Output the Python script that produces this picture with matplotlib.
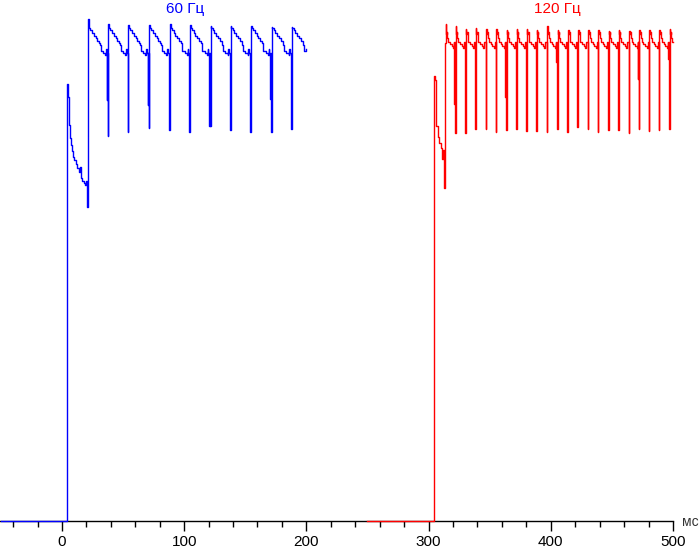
import matplotlib
matplotlib.use("Agg")
from matplotlib import pyplot as plt

# --- data (time in ms, level in % of the top) ---

# 60 Hz trace: switch-on part before the first full frame
blue_lead_t = [-50, 4.3, 4.9, 6.0, 6.5, 7.4, 8.2, 9.0, 10.1, 11.2, 12.5, 13.9, 14.7,
               15.3, 16.4, 18.0, 19.1, 19.6, 20.5, 20.7, 21.0]
blue_lead_v = [0, 87.4, 84.9, 79.2, 76.6, 75.2, 74.0, 72.8, 72.2, 71.4, 70.6, 69.8, 70.8,
               68.6, 68.0, 67.6, 67.2, 68.0, 67.6, 62.8, 81.2]
# frame peaks
blue_peak_t = [21.5, 37.9, 54.3, 71.4, 88.4, 104.7, 121.7, 138.1, 154.7, 171.6, 188.0]
blue_peak_v = [100.4, 99.4, 99.2, 99.2, 99.4, 99.2, 99.0, 99.0, 99.0, 98.8, 98.8]
# bottom of the dip before each next frame
blue_drop_v = [77.1, 77.9, 78.7, 78.2, 77.9, 79.0, 78.2, 77.9, 77.9, 78.5]
# extra short dip just before the main one (None = none)
blue_spike_v = [84.3, None, 83.2, None, None, 79.0, None, None, 84.5, None]
# decay within one frame (offset from the peak, level)
blue_frame_dt = [0.5, 1.5, 3.0, 4.5, 6.0, 7.5, 9.0, 9.6, 10.2, 12.0, 13.8, 14.4, 15.0]
blue_frame_v = [98.6, 98.2, 97.6, 97.0, 96.6, 96.0, 95.6, 95.2, 94.0, 93.6, 93.2, 94.4, 93.6]
blue_end = (200.0, 94.4)

# 120 Hz trace
red_lead_t = [250, 304.4, 305.3, 305.8, 306.1, 307.7, 308.8, 309.9, 310.7, 311.2, 312.0,
              312.8, 313.4]
red_lead_v = [0, 89.0, 88.2, 81.9, 79.0, 76.8, 75.6, 74.6, 74.2, 72.4, 74.2, 66.6, 95.6]
red_peak_t = [314.0, 322.2, 330.6, 338.8, 347.2, 355.4, 363.9, 372.1, 380.5, 388.5, 397.1,
              405.6, 414.1, 422.3, 430.7, 438.9, 447.4, 455.6, 464.1, 472.3, 480.6, 488.8,
              497.3]
red_peak_v = [99.4, 99.0, 98.5, 98.7, 98.5, 98.5, 98.3, 98.5, 98.5, 98.3, 99.0, 98.3,
              98.3, 98.3, 98.3, 98.3, 98.1, 98.2, 98.1, 98.3, 98.3, 98.3, 98.5]
red_drop_v = [77.7, 77.7, 78.5, 78.5, 77.9, 78.2, 78.5, 78.1, 78.1, 77.9, 78.5, 77.9,
              78.9, 78.5, 77.9, 78.2, 78.2, 77.7, 78.5, 78.1, 78.2, 78.5]
red_spike_v = [83.4, 86.2, None, None, None, 84.9, None, 85.9, None, None, 91.9, 81.2,
               80.9, None, None, None, 82.2, None, 88.5, None, None, 92.5]
red_frame_dt = [0.4, 0.8, 1.3, 2.0, 3.5, 5.0, 6.1, 6.9]
red_frame_v = [97.4, 97.8, 96.6, 95.8, 95.4, 95.0, 94.7, 95.8]
red_end = (499.8, 95.8)


def build(lead_t, lead_v, peak_t, peak_v, drop_v, spike_v, frame_dt, frame_v, end):
    t = list(lead_t)
    v = list(lead_v)
    for i in range(len(peak_t)):
        pt = peak_t[i]
        nxt = peak_t[i + 1] if i + 1 < len(peak_t) else end[0] + 1.0
        t.append(pt)
        v.append(peak_v[i])
        for dt, lv in zip(frame_dt, frame_v):
            if pt + dt < min(nxt - 1.0, end[0]):
                t.append(pt + dt)
                v.append(lv)
        if i < len(drop_v):
            last = v[-1]
            if spike_v[i] is not None:
                t += [nxt - 1.0, nxt - 0.85]
                v += [spike_v[i], last]
            t.append(nxt - 0.5)
            v.append(drop_v[i])
    t.append(end[0])
    v.append(end[1])
    return t, v


blue_t, blue_v = build(blue_lead_t, blue_lead_v, blue_peak_t, blue_peak_v, blue_drop_v,
                       blue_spike_v, blue_frame_dt, blue_frame_v, blue_end)
red_t, red_v = build(red_lead_t, red_lead_v, red_peak_t, red_peak_v, red_drop_v,
                     red_spike_v, red_frame_dt, red_frame_v, red_end)

plt.rcParams['font.family'] = ['Liberation Sans', 'DejaVu Sans']

fig = plt.figure(figsize=(7, 5.49), dpi=100)
ax = fig.add_axes([0, 28 / 549, 673 / 700, 521 / 549])

ax.plot(blue_t, blue_v, color='#0000ff', lw=1.0, drawstyle='steps-post', clip_on=False, zorder=3)
ax.plot(red_t, red_v, color='#ff0000', lw=1.0, drawstyle='steps-post', clip_on=False, zorder=3)

ax.set_xlim(-50.7, 500)
ax.set_ylim(0, 104.2)

for s in ['top', 'right', 'left']:
    ax.spines[s].set_visible(False)
ax.spines['bottom'].set_linewidth(1.0)
ax.set_yticks([])
ax.set_xticks([0, 100, 200, 300, 400, 500])
ax.set_xticks(range(-40, 500, 20), minor=True)
ax.tick_params(axis='x', which='major', direction='out', length=7, width=1,
               labelsize=11, pad=3)
ax.tick_params(axis='x', which='minor', direction='out', length=4, width=1)

ax.text(100.7, 102.4, '60 Гц', color='#0000ff', fontsize=11, ha='center', va='center')
ax.text(405, 102.4, '120 Гц', color='#ff0000', fontsize=11, ha='center', va='center')
fig.text(690 / 700, 1 - 522 / 549, 'мс', fontsize=10, color='#333333', ha='center', va='center')

fig.savefig('out.png', dpi=100)
